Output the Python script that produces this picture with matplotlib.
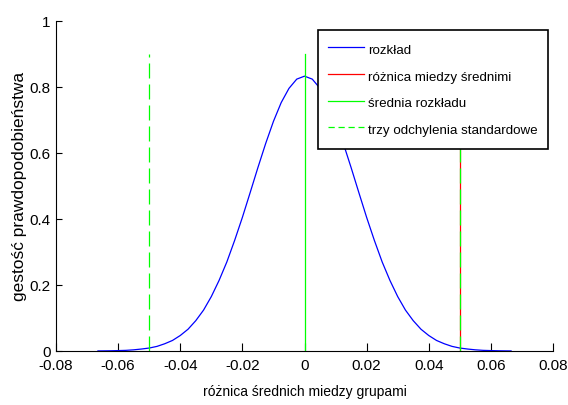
import matplotlib
matplotlib.use("Agg")
import matplotlib.pyplot as plt
from matplotlib import font_manager as fm

# curve (difference of means, density)
x_vals = [-0.0665, -0.065, -0.0625, -0.06, -0.0575, -0.055, -0.0525, -0.05, -0.0475,
          -0.045, -0.0425, -0.04, -0.0375, -0.035, -0.0325, -0.03, -0.0275, -0.025,
          -0.0225, -0.02, -0.0175, -0.015, -0.0125, -0.01, -0.0075, -0.005, -0.0025,
          0.0, 0.0025, 0.005, 0.0075, 0.01, 0.0125, 0.015, 0.0175, 0.02, 0.0225,
          0.025, 0.0275, 0.03, 0.0325, 0.035, 0.0375, 0.04, 0.0425, 0.045, 0.0475,
          0.05, 0.0525, 0.055, 0.0575, 0.06, 0.0625, 0.065, 0.0665]
y_vals = [0.0003, 0.0004, 0.0007, 0.0013, 0.002, 0.0036, 0.006, 0.009, 0.014,
          0.022, 0.032, 0.047, 0.066, 0.092, 0.124, 0.165, 0.214, 0.270,
          0.335, 0.405, 0.480, 0.556, 0.629, 0.696, 0.753, 0.796, 0.824,
          0.833, 0.824, 0.796, 0.753, 0.696, 0.629, 0.556, 0.480, 0.405, 0.335,
          0.270, 0.214, 0.165, 0.124, 0.092, 0.066, 0.047, 0.032, 0.022, 0.014,
          0.009, 0.006, 0.0036, 0.002, 0.0013, 0.0007, 0.0004, 0.0003]

mean_diff = 0.05      # observed difference between means
dist_mean = 0.0       # mean of the distribution
three_sd = [-0.05, 0.05]
line_top = 0.9

labels = ['rozkład', 'różnica miedzy średnimi', 'średnia rozkładu',
          'trzy odchylenia standardowe']
xticks = [-0.08, -0.06, -0.04, -0.02, 0, 0.02, 0.04, 0.06, 0.08]
yticks = [0, 0.2, 0.4, 0.6, 0.8, 1]

# pick a narrow-ish font if one is around
names = {f.name for f in fm.fontManager.ttflist}
if 'Liberation Sans Narrow' in names:
    fam, k = 'Liberation Sans Narrow', 1.2
else:
    fam, k = 'Liberation Sans', 1.0
plt.rcParams['font.family'] = [fam, 'DejaVu Sans']

fig = plt.figure(figsize=(5.68, 4.05), dpi=100)
ax = fig.add_axes([0.0986, 0.1333, 0.875, 0.8147])

h1, = ax.plot(x_vals, y_vals, color='blue', lw=0.9)
h2, = ax.plot([mean_diff, mean_diff], [0, line_top], color='red', lw=0.9)
h3, = ax.plot([dist_mean, dist_mean], [0, line_top], color='#00ff00', lw=0.9)
h4 = None
for v in three_sd:
    h4, = ax.plot([v, v], [0, line_top], color='#00ff00', lw=0.9,
                  linestyle=(0, (12, 4.8)))

ax.set_xlim(-0.08, 0.08)
ax.set_ylim(0, 1)
ax.set_xticks(xticks)
ax.set_xticklabels([f'{t:g}' for t in xticks])
ax.set_yticks(yticks)
ax.set_yticklabels([f'{t:g}' for t in yticks])
ax.spines['top'].set_visible(False)
ax.spines['right'].set_visible(False)
ax.tick_params(axis='x', direction='in', length=6, width=0.8, labelsize=11 * k, pad=6)
ax.tick_params(axis='y', direction='in', length=4, width=0.8, labelsize=11 * k, pad=4)

ax.set_xlabel('różnica średnich miedzy grupami', fontsize=10 * k)
ax.xaxis.set_label_coords(0.5, -0.103)
ax.set_ylabel('gestość prawdopodobieństwa', fontsize=12.5,
              family=['Liberation Sans', 'DejaVu Sans'])
ax.yaxis.set_label_coords(-0.058, 0.5)

leg = ax.legend([h1, h2, h3, h4], labels, loc='upper right',
                bbox_to_anchor=(0.965, 0.926), bbox_transform=fig.transFigure,
                fontsize=9.6 * k, frameon=True, fancybox=False, framealpha=1,
                edgecolor='black', handlelength=2.65, handleheight=1.7,
                handletextpad=0.3, labelspacing=0.65, borderpad=0.8,
                borderaxespad=0)
leg.get_frame().set_linewidth(1.2)
leg.get_lines()[3].set_linestyle((0, (5, 3)))

fig.savefig('out.png', dpi=100)
